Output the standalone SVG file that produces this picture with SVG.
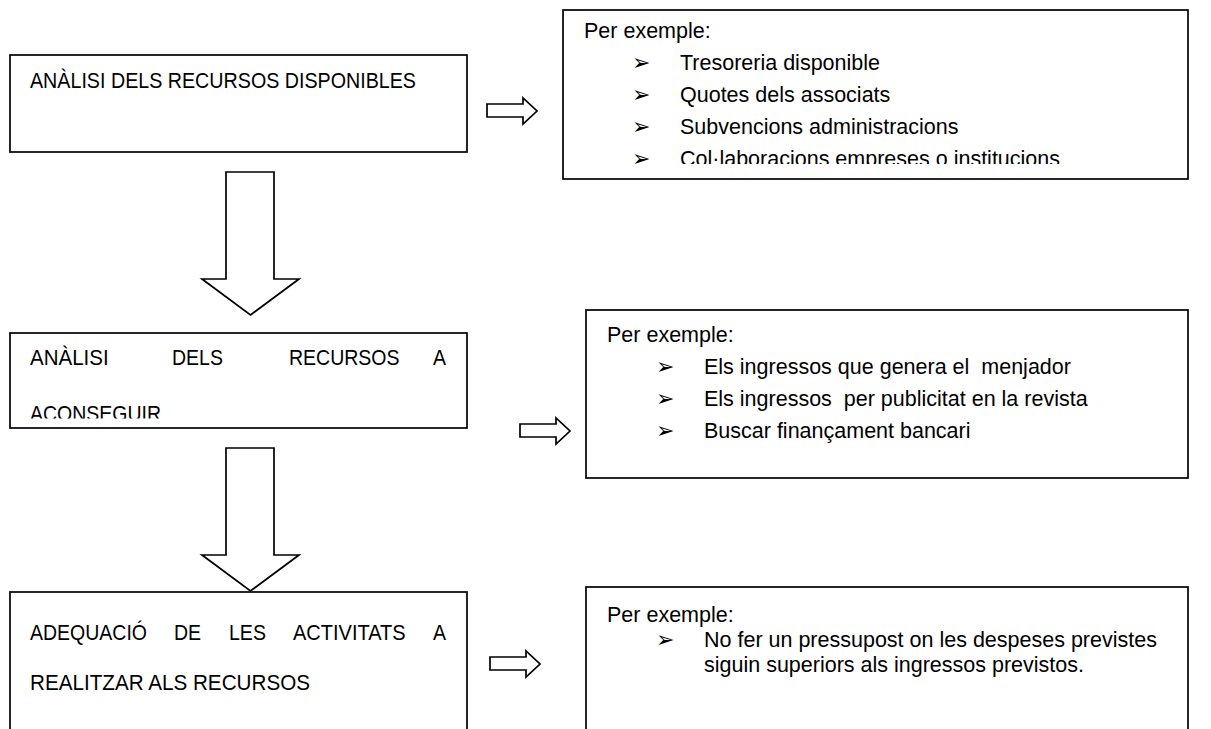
<svg xmlns="http://www.w3.org/2000/svg" width="1211" height="729" viewBox="0 0 1211 729">
<style>
.box{fill:#fff;stroke:#000;stroke-width:1.7}
.arr{fill:#fff;stroke:#000;stroke-width:1.7;stroke-linejoin:miter}
.lt{font-family:"Liberation Sans",Arial,sans-serif;font-size:21.5px;fill:#000}
.rt{font-family:"Liberation Sans",Arial,sans-serif;font-size:21.5px;fill:#000}
.bu{font-family:"DejaVu Sans",sans-serif;font-size:22px;fill:#000}
</style>
<defs>
<clipPath id="c1"><rect x="563" y="10" width="625" height="154"/></clipPath>
<clipPath id="c2"><rect x="10" y="333" width="457" height="85.5"/></clipPath>
<path id="sa" d="M487,104 H523 V98 L537,111 L523,124 V117 H487 Z"/>
<path id="da" d="M226,172 H274 V279 H299 L250.5,315 L202,279 H226 Z"/>
</defs>
<rect width="1211" height="729" fill="#fff"/>
<g id="connectors">
<use href="#sa" class="arr"/>
<use href="#sa" class="arr" transform="translate(33,320)"/>
<use href="#sa" class="arr" transform="translate(3,553)"/>
<use href="#da" class="arr"/>
<use href="#da" class="arr" transform="translate(0,276)"/>
</g>
<g id="node1">
<rect class="box" x="10" y="55" width="457" height="97"/>
<text class="lt" x="30" y="88" textLength="386" lengthAdjust="spacingAndGlyphs">ANÀLISI DELS RECURSOS DISPONIBLES</text>
</g>
<g id="node1-examples">
<rect class="box" x="563" y="10" width="625" height="169"/>
<g clip-path="url(#c1)">
<text class="rt" x="584" y="38">Per exemple:</text>
<text class="bu" x="632" y="70">➢</text><text class="rt" x="680" y="70">Tresoreria disponible</text>
<text class="bu" x="632" y="102">➢</text><text class="rt" x="680" y="102">Quotes dels associats</text>
<text class="bu" x="632" y="134">➢</text><text class="rt" x="680" y="134">Subvencions administracions</text>
<text class="bu" x="632" y="166">➢</text><text class="rt" x="680" y="166">Col·laboracions empreses o institucions</text>
</g>
</g>
<g id="node2">
<rect class="box" x="10" y="333" width="457" height="95"/>
<text class="lt" x="30" y="365" textLength="78.7" lengthAdjust="spacingAndGlyphs">ANÀLISI</text>
<text class="lt" x="172" y="365" textLength="50.9" lengthAdjust="spacingAndGlyphs">DELS</text>
<text class="lt" x="289" y="365" textLength="110.5" lengthAdjust="spacingAndGlyphs">RECURSOS</text>
<text class="lt" x="433" y="365" textLength="13" lengthAdjust="spacingAndGlyphs">A</text>
<g clip-path="url(#c2)"><text class="lt" x="30" y="421" textLength="131" lengthAdjust="spacingAndGlyphs">ACONSEGUIR</text></g>
</g>
<g id="node2-examples">
<rect class="box" x="586" y="310" width="602" height="168"/>
<text class="rt" x="607" y="342">Per exemple:</text>
<text class="bu" x="656" y="374">➢</text><text class="rt" x="704" y="374" xml:space="preserve">Els ingressos que genera el  menjador</text>
<text class="bu" x="656" y="406">➢</text><text class="rt" x="704" y="406" xml:space="preserve">Els ingressos  per publicitat en la revista</text>
<text class="bu" x="656" y="438">➢</text><text class="rt" x="704" y="438">Buscar finançament bancari</text>
</g>
<g id="node3">
<rect class="box" x="10" y="592" width="457" height="160"/>
<text class="lt" x="30" y="640" textLength="117" lengthAdjust="spacingAndGlyphs">ADEQUACIÓ</text>
<text class="lt" x="174" y="640" textLength="27.1" lengthAdjust="spacingAndGlyphs">DE</text>
<text class="lt" x="229" y="640" textLength="36.9" lengthAdjust="spacingAndGlyphs">LES</text>
<text class="lt" x="293" y="640" textLength="112.7" lengthAdjust="spacingAndGlyphs">ACTIVITATS</text>
<text class="lt" x="433" y="640" textLength="13" lengthAdjust="spacingAndGlyphs">A</text>
<text class="lt" x="30" y="690" textLength="280" lengthAdjust="spacingAndGlyphs">REALITZAR ALS RECURSOS</text>
</g>
<g id="node3-examples">
<rect class="box" x="586" y="587" width="602" height="165"/>
<text class="rt" x="607" y="622">Per exemple:</text>
<text class="bu" x="656" y="647">➢</text><text class="rt" x="704" y="647">No fer un pressupost on les despeses previstes</text>
<text class="rt" x="704" y="672">siguin superiors als ingressos previstos.</text>
</g>
</svg>
